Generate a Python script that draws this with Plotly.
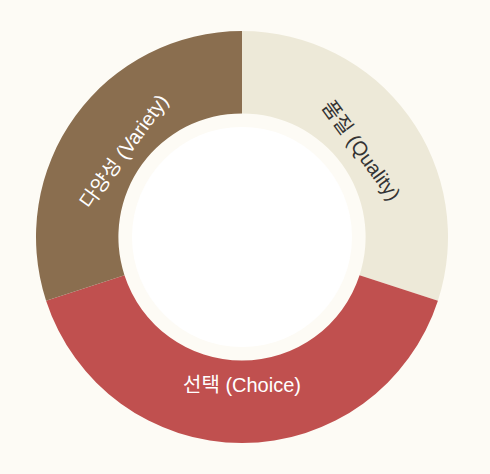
import plotly.graph_objects as go

labels = ["품질 (Quality)", "선택 (Choice)", "다양성 (Variety)"]
values = [30, 40, 30]
colors = ["#ede9d8", "#c0504f", "#8a6e4f"]
text_colors = ["#333333", "#ffffff", "#ffffff"]

fig = go.Figure(go.Pie(
    labels=labels,
    values=values,
    text=labels,
    textinfo="text",
    hole=0.6,
    sort=False,
    direction="clockwise",
    rotation=0,
    marker=dict(colors=colors, line=dict(width=0)),
    textfont=dict(size=20, color=text_colors,
                  family="Liberation Sans, Noto Sans CJK KR, sans-serif"),
    insidetextorientation="tangential",
    textposition="inside",
    showlegend=False,
    hoverinfo="skip",
))

fig.add_shape(type="circle", xref="paper", yref="paper",
              x0=0.5 - 110/412, x1=0.5 + 110/412,
              y0=0.5 - 110/414, y1=0.5 + 110/414,
              fillcolor="#ffffff", line=dict(width=0), layer="above")

fig.update_layout(
    width=490, height=474,
    margin=dict(l=36, r=42, t=30, b=30),
    paper_bgcolor="#fdfbf5",
    plot_bgcolor="#fdfbf5",
)

fig.write_html("out.html",
               config={"displayModeBar": False},
               post_script="document.body.style.margin='0';document.body.style.background='#fdfbf5';")
